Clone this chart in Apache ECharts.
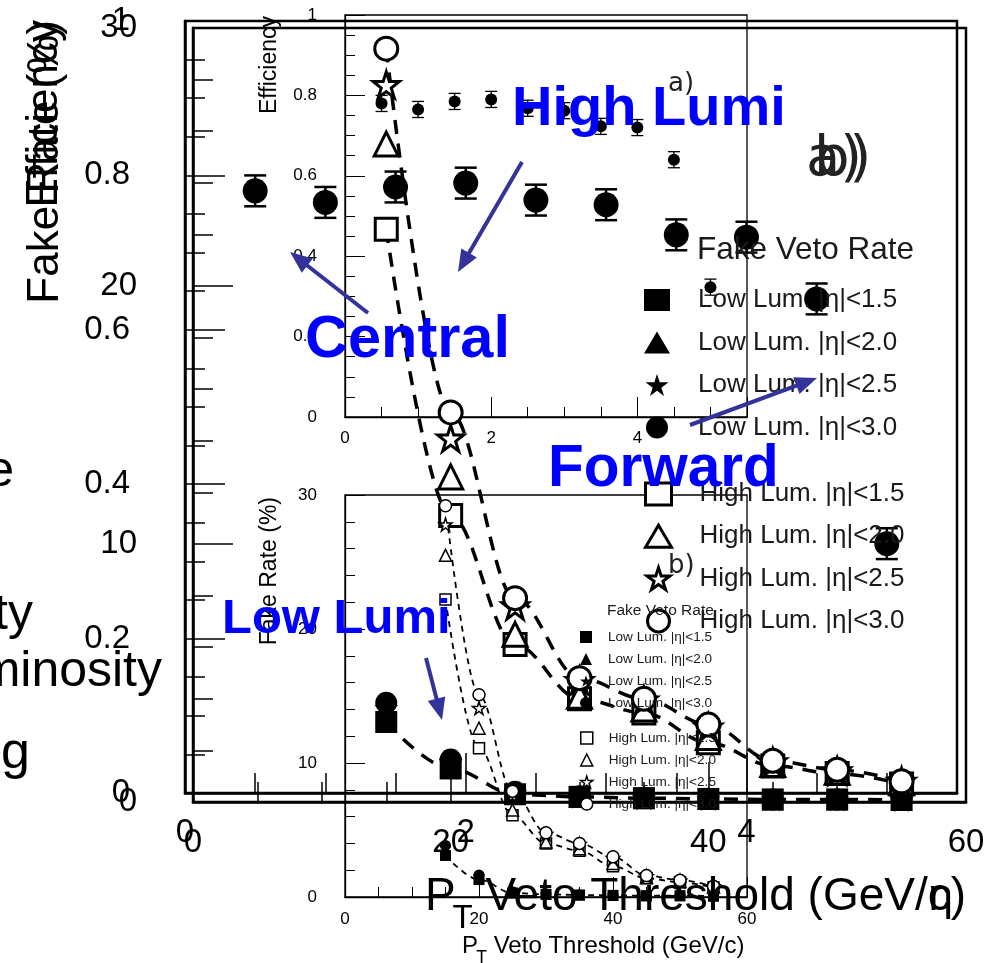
<!DOCTYPE html>
<html><head><meta charset="utf-8">
<script src="https://cdn.jsdelivr.net/npm/echarts@6/dist/echarts.min.js"></script>
<style>html,body{margin:0;padding:0;background:#fff}#c{width:1003px;height:963px}</style>
</head><body><div id="c"></div>
<script>
// ---------------- data ----------------
const effX   = [0.5, 1.0, 1.5, 2.0, 2.5, 3.0, 3.5, 4.0, 4.5, 5.0];
const effVal = [0.780, 0.765, 0.785, 0.790, 0.768, 0.762, 0.723, 0.720, 0.640, 0.323];
const effErr = [0.02, 0.02, 0.02, 0.02, 0.02, 0.02, 0.02, 0.02, 0.02, 0.02];

const ptX       = [15, 20, 25, 30, 35, 40, 45, 50, 55];
const lowLum15  = [3.1, 1.3, 0.3, 0.2, 0.15, 0.12, 0.1, 0.1, 0.08];
const lowLum20  = [3.5, 1.45, 0.32, 0.2, 0.15, 0.12, 0.1, 0.1, 0.08];
const lowLum25  = [3.65, 1.55, 0.35, 0.2, 0.15, 0.12, 0.1, 0.1, 0.08];
const lowLum30  = [3.85, 1.65, 0.4, 0.22, 0.16, 0.13, 0.1, 0.1, 0.08];
const highLum15 = [22.2, 11.1, 6.1, 4.0, 3.45, 2.3, 1.4, 1.1, 0.7];
const highLum20 = [25.5, 12.6, 6.5, 4.1, 3.6, 2.5, 1.45, 1.15, 0.75];
const highLum25 = [27.8, 14.1, 7.6, 4.7, 3.95, 2.9, 1.55, 1.2, 0.8];
const highLum30 = [29.2, 15.1, 7.9, 4.8, 4.0, 3.0, 1.6, 1.25, 0.8];

const lowNames  = ['Low Lum. |η|<1.5', 'Low Lum. |η|<2.0', 'Low Lum. |η|<2.5', 'Low Lum. |η|<3.0'];
const highNames = ['High Lum. |η|<1.5', 'High Lum. |η|<2.0', 'High Lum. |η|<2.5', 'High Lum. |η|<3.0'];
const effTitle = 'Efficiency';
const fakeTitle = 'Fake Rate (%)';
const ptTitleRest = ' Veto Threshold (GeV/c)';

// ---------------- styles ----------------
const STAR = 'path://M50,2 L61.8,38.2 L100,38.2 L69.1,61.8 L80.9,98 L50,75.5 L19.1,98 L30.9,61.8 L0,38.2 L38.2,38.2 Z';
const FONT = '"Liberation Sans", Arial, sans-serif';
const fakeDefs = [
  {name: lowNames[0],  data: lowLum15,  symbol: 'rect',     open: false, big: 22, small: 11},
  {name: lowNames[1],  data: lowLum20,  symbol: 'triangle', open: false, big: 22, small: 11},
  {name: lowNames[2],  data: lowLum25,  symbol: STAR,       open: false, big: 24, small: 12},
  {name: lowNames[3],  data: lowLum30,  symbol: 'circle',   open: false, big: 22, small: 11},
  {name: highNames[0], data: highLum15, symbol: 'rect',     open: true,  big: 22, small: 11},
  {name: highNames[1], data: highLum20, symbol: 'triangle', open: true,  big: 24, small: 12},
  {name: highNames[2], data: highLum25, symbol: STAR,       open: true,  big: 26, small: 13},
  {name: highNames[3], data: highLum30, symbol: 'circle',   open: true,  big: 23, small: 12}
];
const iconOf = {};
fakeDefs.forEach(d => iconOf[d.name] = d.symbol);

function xy(xs, ys) { return xs.map((x, i) => [x, ys[i]]); }

function axis(o) {
  return {
    type: 'value', gridIndex: o.g, min: o.min, max: o.max, interval: o.iv,
    axisLine: {show: true, lineStyle: {color: '#000', width: o.lw}},
    axisTick: {show: true, inside: true, length: o.tl, lineStyle: {color: '#000', width: o.tw}},
    minorTick: {show: true, splitNumber: o.ms, length: o.tl / 2, lineStyle: {color: '#000', width: o.tw}},
    splitLine: {show: false}, minorSplitLine: {show: false},
    axisLabel: {show: true, margin: o.m, fontSize: o.fs, color: '#000', fontFamily: FONT,
                showMaxLabel: o.showMax !== false, showMinLabel: true, hideOverlap: false}
  };
}

const grids = [
  {left: 185, top: 21, width: 772, height: 772},
  {left: 193, top: 28, width: 773, height: 774},
  {left: 345, top: 15, width: 402, height: 402},
  {left: 345, top: 495, width: 402, height: 402}
].map((g, i) => Object.assign(g, {show: true, borderColor: '#000', borderWidth: i < 2 ? 2.5 : 1.3,
  backgroundColor: 'transparent', containLabel: false, outerBoundsMode: 'none'}));

const xAxes = [
  axis({g: 0, min: 0, max: 5.5, iv: 2, ms: 4, lw: 2.5, tl: 40, tw: 1.5, m: 23, fs: 33, showMax: false}),
  axis({g: 1, min: 0, max: 60, iv: 20, ms: 4, lw: 2.5, tl: 40, tw: 1.5, m: 24, fs: 33}),
  axis({g: 2, min: 0, max: 5.5, iv: 2, ms: 4, lw: 1.3, tl: 20, tw: 1, m: 13, fs: 17, showMax: false}),
  axis({g: 3, min: 0, max: 60, iv: 20, ms: 4, lw: 1.3, tl: 20, tw: 1, m: 14, fs: 17})
];
const yAxes = [
  axis({g: 0, min: 0, max: 1, iv: 0.2, ms: 4, lw: 2.5, tl: 40, tw: 1.5, m: 55, fs: 33}),
  axis({g: 1, min: 0, max: 30, iv: 10, ms: 5, lw: 2.5, tl: 40, tw: 1.5, m: 56, fs: 33}),
  axis({g: 2, min: 0, max: 1, iv: 0.2, ms: 4, lw: 1.3, tl: 20, tw: 1, m: 28, fs: 17}),
  axis({g: 3, min: 0, max: 30, iv: 10, ms: 5, lw: 1.3, tl: 20, tw: 1, m: 28, fs: 17})
];

function errSeries(ai, cap, lw) {
  return {
    type: 'custom', name: 'effErr' + ai, xAxisIndex: ai, yAxisIndex: ai, silent: true, z: 3,
    data: effX.map((x, i) => [x, effVal[i], effErr[i]]),
    encode: {x: 0, y: 1},
    renderItem(params, api) {
      const x = api.value(0), y = api.value(1), e = api.value(2);
      const t = api.coord([x, y + e]), b = api.coord([x, y - e]);
      const st = {stroke: '#000', lineWidth: lw};
      return {type: 'group', children: [
        {type: 'line', shape: {x1: t[0], y1: t[1], x2: b[0], y2: b[1]}, style: st},
        {type: 'line', shape: {x1: t[0] - cap, y1: t[1], x2: t[0] + cap, y2: t[1]}, style: st},
        {type: 'line', shape: {x1: b[0] - cap, y1: b[1], x2: b[0] + cap, y2: b[1]}, style: st}
      ]};
    }
  };
}
function effScatter(ai, size) {
  return {type: 'scatter', name: 'effPts' + ai, xAxisIndex: ai, yAxisIndex: ai, z: 4, silent: true,
    symbol: 'circle', symbolSize: size, itemStyle: {color: '#000', opacity: 1},
    data: xy(effX, effVal)};
}
function fitLine(ai, ys, width, dash) {
  return {type: 'line', name: 'fit', xAxisIndex: ai, yAxisIndex: ai, silent: true, z: 3,
    showSymbol: false, symbol: 'none', smooth: 0.35, smoothMonotone: 'x',
    lineStyle: {color: '#000', width: width, type: dash}, data: xy(ptX, ys)};
}
function fakeScatter(ai, big) {
  return fakeDefs.map(d => ({
    type: 'scatter', name: d.name, xAxisIndex: ai, yAxisIndex: ai, z: 4, silent: true,
    symbol: d.symbol, symbolSize: big ? d.big : d.small,
    itemStyle: d.open ? {color: '#fff', borderColor: '#000', borderWidth: big ? 3 : 1.5, opacity: 1}
                      : {color: '#000', borderColor: '#000', borderWidth: 0, opacity: 1},
    data: xy(ptX, d.data)
  }));
}

const series = [].concat(
  [errSeries(0, 11, 2.5), effScatter(0, 25)],
  [fitLine(1, highLum30, 3.5, [14, 10]), fitLine(1, highLum15, 3.5, [14, 10]), fitLine(1, lowLum15, 3.5, [14, 10])],
  fakeScatter(1, true),
  [errSeries(2, 6, 1.3), effScatter(2, 12)],
  [fitLine(3, highLum30, 1.8, [6, 5]), fitLine(3, highLum15, 1.8, [6, 5]), fitLine(3, lowLum15, 1.8, [6, 5])],
  fakeScatter(3, false)
);

function legend(names, left, top, iw, ih, gap, fs, pad, bw) {
  return {orient: 'vertical', left: left, top: top, padding: 0, itemWidth: iw, itemHeight: ih, itemGap: gap,
    selectedMode: false, z: 5,
    data: names.map(n => ({name: n, icon: iconOf[n]})),
    itemStyle: bw == null ? {} : {borderWidth: bw, borderColor: '#000'},
    textStyle: {fontSize: fs, lineHeight: ih, fontFamily: FONT, color: '#1a1a1a', padding: [0, 0, 0, pad]}};
}

// --------- text measuring for composed titles ---------
const mctx = document.createElement('canvas').getContext('2d');
function tw(font, s) { mctx.font = font; return mctx.measureText(s).width; }
function ptTitle(xP, baseY, fMain, fSub, z) {
  const fm = fMain + 'px ' + FONT, fs = fSub + 'px ' + FONT;
  const wP = tw(fm, 'P'), wT = tw(fs, 'T');
  const xT = xP + wP - fMain * 0.07, xR = xT + wT;
  return [
    {type: 'text', z: z, x: xP, y: baseY - 0.35 * fMain, style: {text: 'P', font: fm, fill: '#000', align: 'left', verticalAlign: 'middle'}},
    {type: 'text', z: z, x: xT, y: baseY + fMain * 0.39 - 0.35 * fSub, style: {text: 'T', font: fs, fill: '#000', align: 'left', verticalAlign: 'middle'}},
    {type: 'text', z: z, x: xR, y: baseY - 0.35 * fMain, style: {text: ptTitleRest, font: fm, fill: '#000', align: 'left', verticalAlign: 'middle'}}
  ];
}
function vtext(text, x, y, size) {
  return {type: 'text', z: 6, x: x, y: y, rotation: Math.PI / 2,
    style: {text: text, font: size + 'px ' + FONT, fill: '#000', align: 'right', verticalAlign: 'middle'}};
}
function txt(text, x, y, font, fill, align, z) {
  return {type: 'text', z: z || 6, x: x, y: y, style: {text: text, font: font, fill: fill, align: align || 'left', verticalAlign: 'middle'}};
}
function arrow(x1, y1, x2, y2) {
  const dx = x2 - x1, dy = y2 - y1, L = Math.hypot(dx, dy), ux = dx / L, uy = dy / L;
  const hl = 22, hw = 9, bx = x2 - ux * hl, by = y2 - uy * hl;
  return [
    {type: 'line', z: 100, shape: {x1: x1, y1: y1, x2: bx + ux * 3, y2: by + uy * 3}, style: {stroke: '#333399', lineWidth: 4}},
    {type: 'polygon', z: 100, shape: {points: [[x2, y2], [bx - uy * hw, by + ux * hw], [bx + uy * hw, by - ux * hw]]}, style: {fill: '#333399'}}
  ];
}
const HW = '"DejaVu Sans", sans-serif';

const graphics = [].concat(
  [vtext(effTitle, 45, 20, 44), vtext(fakeTitle, 46, 20, 44),
   vtext(effTitle, 270, 16, 23), vtext(fakeTitle, 270, 497, 23)],
  ptTitle(425, 913, 46, 33, 6),
  ptTitle(462, 955, 24, 17.5, 6),
  [txt('η', 953, 898, '44px ' + FONT, '#000', 'right')],
  [txt('Fake Veto Rate', 697, 250, '31.5px ' + FONT, '#1a1a1a'),
   txt('Fake Veto Rate', 607, 611, '15.5px ' + FONT, '#1a1a1a'),
   txt('a)', 668, 84, '26px ' + HW, '#222'),
   txt('b)', 668, 566, '26px ' + HW, '#222'),
   txt('a)', 806, 160, '56px ' + HW, '#222'),
   txt('b)', 814, 160, '56px ' + HW, '#222')],
  [txt('Rate', 14, 472, '50px ' + FONT, '#000', 'right'),
   txt('High Luminosity', 33, 615, '50px ' + FONT, '#000', 'right'),
   txt('Low Luminosity', 162, 672, '50px ' + FONT, '#000', 'right'),
   txt('Tagging', 30, 754, '52px ' + FONT, '#000', 'right')],
  [txt('High Lumi', 512, 110, 'bold 56px ' + FONT, '#0000ff', 'left', 101),
   txt('Central', 305, 341, 'bold 59.5px ' + FONT, '#0000ff', 'left', 101),
   txt('Forward', 548, 470, 'bold 58.5px ' + FONT, '#0000ff', 'left', 101),
   txt('Low Lumi', 222, 619, 'bold 49px ' + FONT, '#0000ff', 'left', 101)],
  arrow(522, 162, 458, 272),
  arrow(368, 313, 290, 252),
  arrow(690, 425, 817, 378),
  arrow(426, 658, 442, 720)
);

const chart = echarts.init(document.getElementById('c'), null, {renderer: 'canvas'});
chart.setOption({
  backgroundColor: '#fff',
  animation: false,
  grid: grids,
  xAxis: xAxes,
  yAxis: yAxes,
  legend: [
    legend(lowNames, 644, 287, 26, 22, 16.5, 26, 23, null),
    legend(highNames, 644, 481, 26, 22, 16.3, 26, 23, 3),
    legend(lowNames, 580, 630, 12, 12, 8, 13.6, 11, null),
    legend(highNames, 580, 731, 12, 12, 8, 13.6, 11, 1.5)
  ],
  series: series,
  graphic: {elements: graphics}
});
</script>
</body></html>
